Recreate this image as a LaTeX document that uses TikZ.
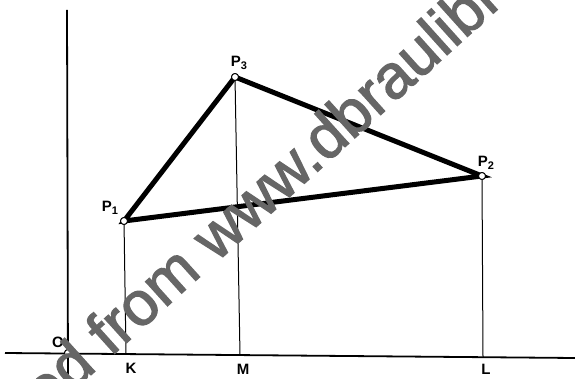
\documentclass[tikz,border=0pt]{standalone}
\usepackage{fontspec}
\setmainfont{Liberation Sans}
\newfontfamily\wmfont[FakeBold=2]{Liberation Sans}
\newcommand{\subnum}[1]{\raisebox{-3.5pt}{\fontsize{11}{11}\selectfont #1}}
\begin{document}
\begin{tikzpicture}[x=1pt,y=-1pt,
  axis/.style={line width=1.8pt},
  proj/.style={line width=1pt},
  side/.style={line width=5pt, line cap=round},
  pt/.style={circle, draw, fill=white, line width=0.9pt, inner sep=0pt, minimum size=7pt},
  lab/.style={font=\fontsize{15}{15}\selectfont\bfseries, inner sep=1pt},
  wm/.style={font=\wmfont\fontsize{62}{62}\selectfont, text=black!60, rotate=42, inner sep=0pt}]
\useasboundingbox (0,0) rectangle (575,379);
\begin{scope}
\clip (0,0) rectangle (575,379);
% axes
\coordinate (xa) at (5,353);
\coordinate (xb) at (575,358);
\coordinate (ya) at (67,10);
\coordinate (yb) at (68,379);
\draw[axis] (xa) -- (xb);
\draw[axis] (ya) -- (yb);
% feet
\coordinate (K) at (126,354);
\coordinate (M) at (240,355);
\coordinate (L) at (483,357);
% points
\node[pt] (P1) at (124,221) {};
\node[pt] (P3) at (235,77) {};
\node[pt] (P2) at (482,176) {};
\node[pt] (O) at (68,353) {};
% projections
\draw[proj] (P1) -- (K);
\draw[proj] (P3) -- (M);
\draw[proj] (P2) -- (L);
% triangle
\draw[side] (P1.center) -- (P3.center) -- (P2.center) -- cycle;
\node[pt] at (P1) {};
\node[pt] at (P3) {};
\node[pt] at (P2) {};
\node[pt] at (O) {};
% labels
\node[lab] (lO) at (58,342) {O};
\node[lab] (lP1) at (110,208) {P\subnum{1}};
\node[lab] (lP3) at (239,63) {P\subnum{3}};
\node[lab] (lP2) at (486,163) {P\subnum{2}};
\node[lab] (lK) at (131,368) {K};
\node[lab] (lM) at (243,369) {M};
\node[lab] (lL) at (486,369) {L};
% watermark
\node[wm, anchor=base west] (w1) at (216,263) {www.dbraulibrary.org.in};
\node[wm, anchor=base east] (w2) at (203,274) {Downloaded from};
\end{scope}
\end{tikzpicture}
\end{document}
